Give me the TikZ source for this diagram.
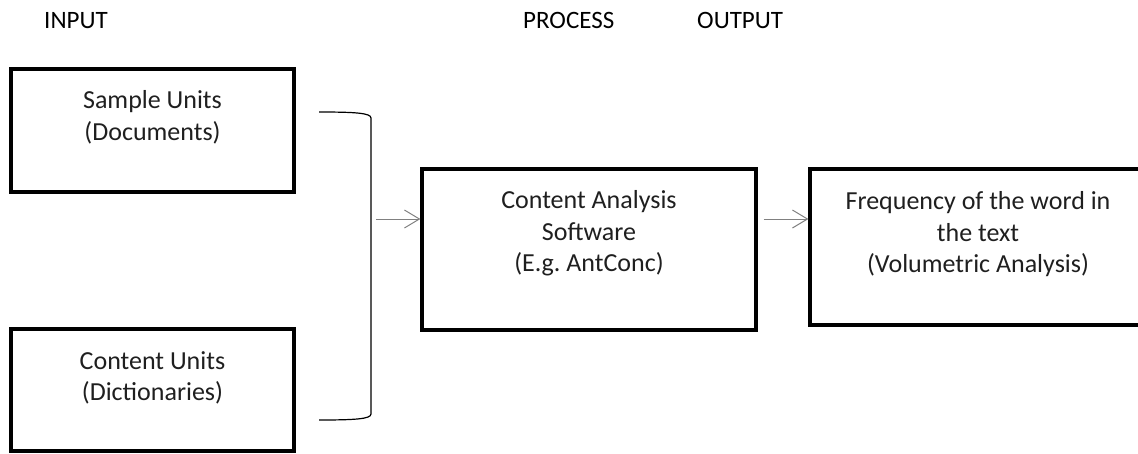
\documentclass[tikz,border=0pt]{standalone}
\usepackage{fontspec}
\setmainfont{Carlito}
\usetikzlibrary{arrows.meta,calc}
\frenchspacing

\tikzset{
  box/.style={draw=black, line width=3.2pt, rectangle, inner sep=0pt},
  boxtext/.style={anchor=north, inner sep=0pt, align=center, text=black!88,
                  font=\fontsize{26}{31.5}\selectfont},
  heading/.style={anchor=base west, inner sep=0pt, text=black,
                  font=\fontsize{25}{30}\selectfont},
  flow/.style={draw=black!50, line width=1pt,
               -{Straight Barb[length=15pt, width=18pt, line width=1pt]}},
  bracket/.style={draw=black, line width=1.2pt}
}

\begin{document}
\begin{tikzpicture}[x=1pt, y=-1pt]
  \useasboundingbox (0,0) rectangle (1138,453);

  % column headings
  \node[heading] (hin)  at (44,28)  {INPUT};
  \node[heading] (hpro) at (523,28) {PROCESS};
  \node[heading] (hout) at (697,28) {OUTPUT};

  % input boxes
  \node[box, minimum width=283pt, minimum height=123pt] (sample) at (152.5,130.5) {};
  \node[boxtext] (sampletxt) at ($(sample.north)+(0,23)$) {Sample Units\\(Documents)};

  \node[box, minimum width=283pt, minimum height=122pt] (content) at (152.5,390) {};
  \node[boxtext] (contenttxt) at ($(content.north)+(0,24)$) {Content Units\\(Dictionaries)};

  % process box
  \node[box, minimum width=334pt, minimum height=161pt] (soft) at (589,249.5) {};
  \node[boxtext] (softtxt) at ($(soft.north)+(0,23)$) {Content Analysis\\Software\\(E.g. AntConc)};

  % output box (runs past the right edge)
  \node[box, minimum width=336pt, minimum height=156pt] (freq) at (978,247) {};
  \node[boxtext] (freqtxt) at ($(freq.north)+(0,24)$) {Frequency of the word in\\the text\\(Volumetric Analysis)};

  % bracket gathering the two inputs
  \coordinate (btop) at (319,112);
  \coordinate (bbot) at (319,420);
  \coordinate (btip) at (376,219);
  \coordinate (flowy) at (0,219);
  \draw[bracket] (btop) .. controls (355,112) and (371,113) .. (371,118)
                 -- (371,414) .. controls (371,419) and (355,420) .. (bbot);

  % arrows
  \draw[flow] (btip) -- (soft.west |- flowy);
  \draw[flow] ([xshift=6pt]soft.east |- flowy) -- (freq.west |- flowy);
\end{tikzpicture}
\end{document}
